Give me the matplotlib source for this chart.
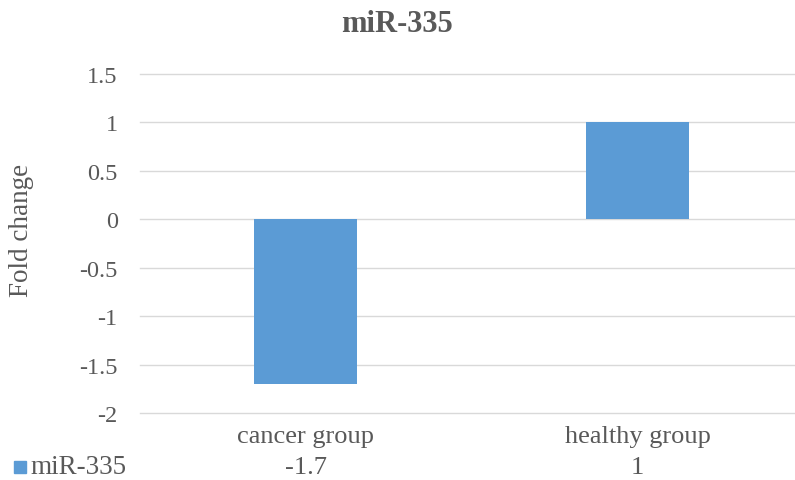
import matplotlib.pyplot as plt
import matplotlib.transforms as mtransforms
from matplotlib.patches import Rectangle

categories = ['cancer group', 'healthy group']
fold_change = [-1.7, 1]
series_name = 'miR-335'
y_ticks = [-2, -1.5, -1, -0.5, 0, 0.5, 1, 1.5]
y_tick_labels = ['-2', '-1.5', '-1', '-0.5', '0', '0.5', '1', '1.5']

plt.rcParams['font.family'] = 'Liberation Serif'
text_color = '#595959'
bar_color = '#5b9bd5'

fig = plt.figure(figsize=(7.95, 4.81), dpi=100)
ax = fig.add_axes([0.176, 0.139, 0.835, 0.705])

x = list(range(len(categories)))
ax.bar(x, fold_change, width=0.31, color=bar_color, zorder=3)

ax.set_xlim(-0.5, 1.5)
ax.set_ylim(-2, 1.5)
ax.set_yticks(y_ticks)
ax.set_yticklabels(y_tick_labels)
ax.set_xticks([])
ax.grid(axis='y', color='#d9d9d9', linewidth=1, zorder=0)
for line in ax.get_ygridlines():
    line.set_clip_on(False)
for s in ax.spines.values():
    s.set_visible(False)
ax.tick_params(axis='y', length=0, pad=16, labelsize=17.5, labelcolor=text_color)

fig.text(22 / 795, 1 - 230 / 481, 'Fold change', rotation=90, ha='center', va='center',
         fontsize=19.5, color=text_color)
fig.text(0.5, 1 - 25 / 481, series_name, ha='center', va='center',
         fontsize=22, fontweight='bold', color=text_color)

# data table underneath the plot
trans = mtransforms.blended_transform_factory(ax.transData, fig.transFigure)
for xi, cat, val in zip(x, categories, fold_change):
    ax.text(xi, 1 - 437 / 481, cat, transform=trans, ha='center', va='center',
            fontsize=19, color=text_color)
    ax.text(xi, 1 - 468 / 481, f'{val:g}', transform=trans, ha='center', va='center',
            fontsize=19, color=text_color)

fig.patches.append(Rectangle((14 / 795, 1 - 474 / 481), 12 / 795, 12 / 481,
                             transform=fig.transFigure, color=bar_color))
fig.text(30 / 795, 1 - 468 / 481, series_name, ha='left', va='center',
         fontsize=19.5, color=text_color)

fig.savefig('out.png', dpi=100)
